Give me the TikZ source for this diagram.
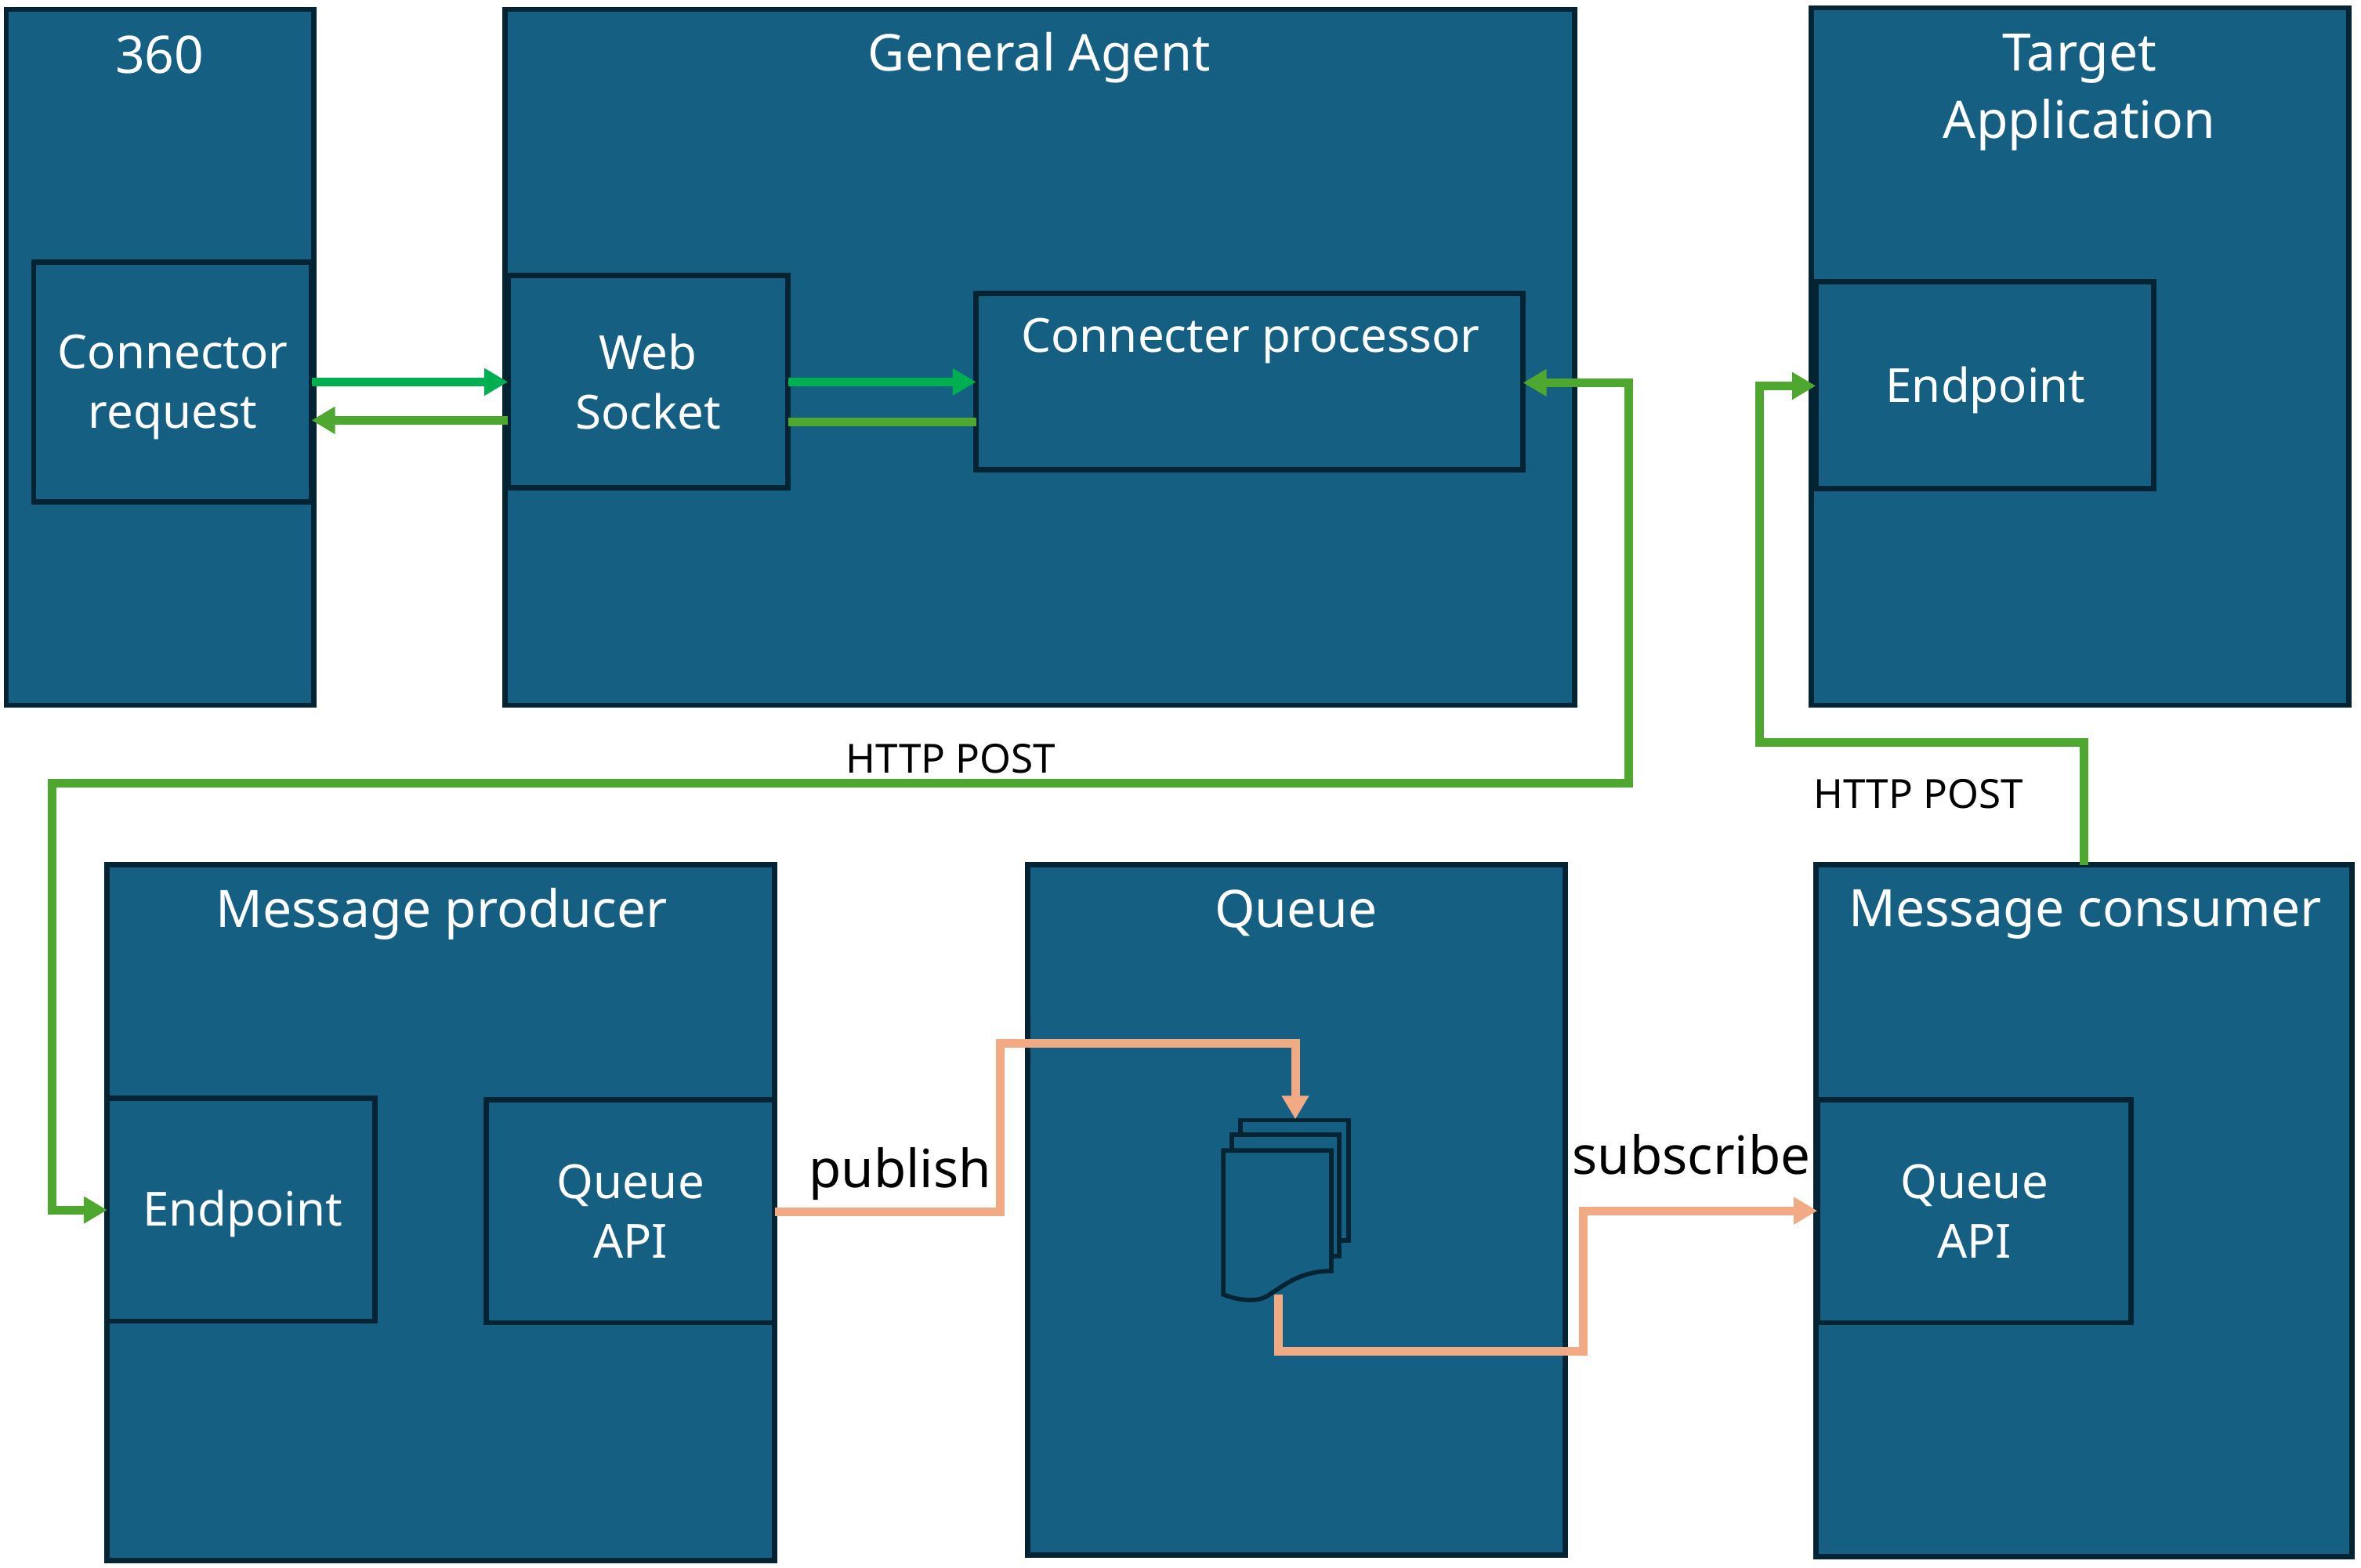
\documentclass[tikz,border=0pt]{standalone}
\usepackage{fontspec}
\setmainfont{Noto Sans}
\usetikzlibrary{arrows.meta}
\definecolor{boxfill}{HTML}{156082}
\definecolor{boxline}{HTML}{042433}
\definecolor{gOne}{HTML}{00B050}
\definecolor{gTwo}{HTML}{4EA72E}
\definecolor{peach}{HTML}{F2AA84}
\tikzset{
  bx/.style={draw=boxline,fill=boxfill,line width=1.7pt,inner sep=0pt,outer sep=0pt,anchor=north west,
    text=white,align=center,font=\fontsize{15}{19}\selectfont},
  titletext/.style={text=white,align=center,inner sep=0pt,font=\fontsize{16.5}{21.5}\selectfont},
  innertext/.style={text=white,align=center,inner sep=0pt,font=\fontsize{15}{19}\selectfont},
  smallcap/.style={text=black,inner sep=0pt,font=\fontsize{12.8}{14}\selectfont},
  bigcap/.style={text=black,inner sep=0pt,font=\fontsize{16.8}{19}\selectfont},
  tiparrow/.style={-{Triangle[length=7.5pt,width=8.25pt]}},
  bothtips/.style={{Triangle[length=7.5pt,width=8.25pt]}-{Triangle[length=7.5pt,width=8.25pt]}},
  conn/.style={line width=2.75pt,line join=miter},
  sheet/.style={draw=boxline,fill=boxfill,line width=1.4pt,line join=miter},
}
\newcommand{\pxbox}[6]{\node[bx,minimum width={(#4-#2)*0.2497pt},minimum height={(#5-#3)*0.2497pt}] (#1) at (#2,#3) {#6};}
\begin{document}
\begin{tikzpicture}[x=0.2497pt,y=-0.2497pt]
\useasboundingbox[fill=white] (0,0) rectangle (3016.6,2003.4);
% outer boxes
\pxbox{tool}{8}{12}{401}{901}{}
\pxbox{agent}{645}{12}{2012}{901}{}
\pxbox{target}{2314}{10}{3001}{901}{}
\pxbox{producer}{137}{1105}{990}{1994}{}
\pxbox{queue}{1313}{1105}{2000}{1987}{}
\pxbox{consumer}{2320}{1105}{3005}{1989}{}
% inner boxes
\pxbox{request}{43}{335}{398}{641}{}
\pxbox{socket}{649}{352}{1007}{623}{Web\\Socket}
\pxbox{processor}{1247}{375}{1946}{600}{}
\pxbox{tendpoint}{2320}{360}{2752}{624}{}
\pxbox{pendpoint}{137}{1403}{479}{1688}{}
\pxbox{papi}{621}{1405}{990}{1690}{Queue\\API}
\pxbox{capi}{2322}{1405}{2723}{1690}{Queue\\API}
% titles
\node[titletext] (ttool) at (204,70) {360};
\node[titletext,font=\fontsize{16.2}{21.5}\selectfont] (tagent) at (1328,74) {General Agent};
\node[titletext] (ttarget) at (2657,118) {Target\\Application};
\node[titletext] (tproducer) at (564,1168) {Message producer};
\node[titletext] (tqueue) at (1656,1167) {Queue};
\node[titletext] (tconsumer) at (2664,1168) {Message consumer};
\node[innertext] (trequest) at (221,495) {Connector\\request};
\node[innertext] (tprocessor) at (1598,435) {Connecter processor};
\node[innertext] (ttendpoint) at (2537,498) {Endpoint};
\node[innertext] (tpendpoint) at (310,1551) {Endpoint};
% stacked documents
\draw[sheet] (1585,1431) rectangle (1723,1585);
\draw[sheet] (1574,1450) rectangle (1711,1605);
\draw[sheet] (1563,1470) -- (1701,1470) -- (1701,1624)
  .. controls (1662,1624) and (1642,1641) .. (1619,1656)
  .. controls (1607,1663) and (1587,1663) .. (1563,1654) -- cycle;
\coordinate (docA) at (1655,1430);
\coordinate (docB) at (1633,1654);
% connectors
\draw[conn,gOne,tiparrow] (request.east |- 0,488) -- (socket.west |- 0,488);
\draw[conn,gTwo,tiparrow] (socket.west |- 0,537) -- (request.east |- 0,537);
\draw[conn,gOne,tiparrow] (socket.east |- 0,488) -- (processor.west |- 0,488);
\draw[conn,gTwo] (socket.east |- 0,539) -- (processor.west |- 0,539);
\draw[conn,gTwo,bothtips] (pendpoint.west |- 0,1546) -| (67,1001) -| (2081,489) -- (processor.east |- 0,489);
\draw[conn,gTwo,tiparrow] (consumer.north) |- (2248,949) |- (tendpoint.west |- 0,493);
\draw[conn,peach,tiparrow] (papi.east |- 0,1548) -| (1278,1333) -| (docA);
\draw[conn,peach,tiparrow] (docB) |- (2023,1727) |- (capi.west |- 0,1547);
% connector labels
\node[smallcap] (post1) at (1215,969) {HTTP POST};
\node[smallcap] (post2) at (2451,1014) {HTTP POST};
\node[bigcap] (pub) at (1150,1500) {publish};
\node[bigcap] (sub) at (2161,1475) {subscribe};
\end{tikzpicture}
\end{document}
